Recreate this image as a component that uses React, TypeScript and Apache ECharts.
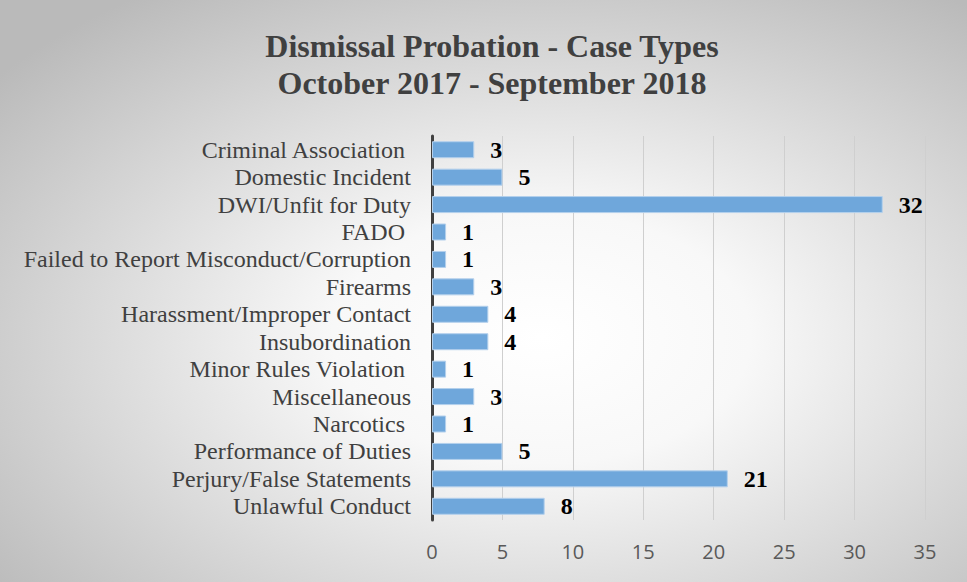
import React, { useEffect, useRef } from "react";
import * as echarts from "echarts";

const categories = [
  "Criminal Association ",
  "Domestic Incident",
  "DWI/Unfit for Duty",
  "FADO ",
  "Failed to Report Misconduct/Corruption",
  "Firearms",
  "Harassment/Improper Contact",
  "Insubordination",
  "Minor Rules Violation ",
  "Miscellaneous",
  "Narcotics ",
  "Performance of Duties",
  "Perjury/False Statements",
  "Unlawful Conduct",
];
const values = [3, 5, 32, 1, 1, 3, 4, 4, 1, 3, 1, 5, 21, 8];
const titleLines = ["Dismissal Probation - Case Types", "October 2017 - September 2018"];

export default function App() {
  const ref = useRef<HTMLDivElement>(null);
  useEffect(() => {
    document.body.style.margin = "0";
    const chart = echarts.init(ref.current!, null, { renderer: "svg" });
    const serif = "'Liberation Serif', 'Times New Roman', serif";
    chart.setOption({
      animation: false,
      backgroundColor: new echarts.graphic.RadialGradient(0.56, 0.58, 0.72, [
        { offset: 0, color: "#ffffff" },
        { offset: 0.3, color: "#f8f8f8" },
        { offset: 1, color: "#bababa" },
      ]),
      title: {
        text: titleLines.join("\n"),
        left: 487,
        textAlign: "center",
        top: 22,
        textStyle: {
          fontFamily: serif,
          fontWeight: "bold",
          fontSize: 32,
          lineHeight: 37,
          color: "#404040",
        },
      },
      grid: { left: 432, right: 42, top: 136, bottom: 62, containLabel: false },
      xAxis: {
        type: "value",
        min: 0,
        max: 35,
        interval: 5,
        axisLine: { show: false },
        axisTick: { show: false },
        splitLine: { lineStyle: { color: "#cfcfcf", width: 1 } },
        axisLabel: {
          margin: 21,
          fontFamily: "'Open Sans', sans-serif",
          fontSize: 20,
          color: "#595959",
        },
      },
      yAxis: {
        type: "category",
        inverse: true,
        data: categories,
        axisLine: { show: true, lineStyle: { color: "#404040", width: 3 } },
        axisTick: { show: false },
        axisLabel: {
          interval: 0,
          hideOverlap: false,
          margin: 21,
          fontFamily: serif,
          fontSize: 24,
          color: "#404040",
        },
      },
      series: [
        {
          type: "bar",
          data: values,
          barWidth: 17,
          itemStyle: {
            color: "#6fa7db",
            borderColor: "#b4d0ec",
            borderWidth: 1,
          },
          label: {
            show: true,
            position: "right",
            distance: 16,
            fontFamily: serif,
            fontWeight: "bold",
            fontSize: 24,
            color: "#000000",
          },
        },
      ],
    });
    return () => chart.dispose();
  }, []);
  return <div ref={ref} style={{ width: 967, height: 582 }} />;
}
